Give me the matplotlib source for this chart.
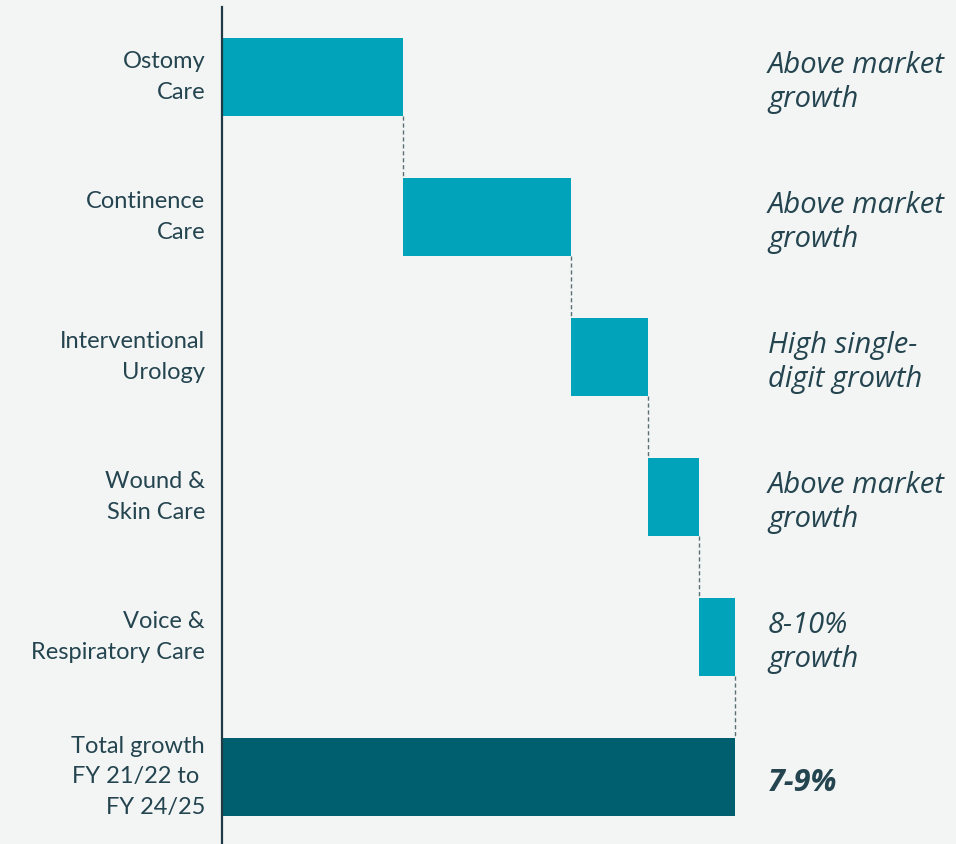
import matplotlib.pyplot as plt
import numpy as np

# Data (share of total growth)
categories = ['Ostomy\nCare', 'Continence\nCare', 'Interventional\nUrology',
              'Wound &\nSkin Care', 'Voice &\nRespiratory Care',
              'Total growth\nFY 21/22 to \nFY 24/25']
contributions = [35.3, 32.7, 15.0, 9.9, 7.0]
outlooks = ['Above market\ngrowth', 'Above market\ngrowth', 'High single-\ndigit growth',
            'Above market\ngrowth', '8-10%\ngrowth', '7-9%']

bg = '#f3f5f5'
teal = '#00a3b9'
dark = '#005f6e'
txt = '#24444f'

plt.rcParams['font.family'] = ['Lato', 'DejaVu Sans']

fig = plt.figure(figsize=(9.56, 8.44), dpi=100, facecolor=bg)
ax = fig.add_axes([222/956, 0, 734/956, 837/844], facecolor=bg)

total = sum(contributions)
starts = np.concatenate([[0], np.cumsum(contributions)[:-1]])
ends = np.cumsum(contributions)
ypos = np.arange(len(categories))
h = 0.557

ax.barh(ypos[:-1], contributions, left=starts, height=h, color=teal, edgecolor='none')
ax.barh(ypos[-1], total, left=0, height=h, color=dark, edgecolor='none')

# dashed connectors
for i, e in enumerate(ends):
    ax.plot([e, e], [ypos[i] + h/2, ypos[i] + 1 - h/2], color='#5a6e75',
            lw=1, ls=(0, (3, 2)), zorder=0)

ax.set_xlim(0, total * 734 / 513)
ax.set_ylim(5.479, -0.5)

for s in ['top', 'right', 'bottom']:
    ax.spines[s].set_visible(False)
ax.spines['left'].set_color('#1f3a44')
ax.spines['left'].set_linewidth(1.6)
ax.set_xticks([])
ax.set_yticks([])

for i, lab in enumerate(categories):
    ax.text(-17 / 513 * total, ypos[i], lab, ha='right', va='center',
            fontsize=17, color=txt, linespacing=1.55)

for i, t in enumerate(outlooks):
    bold = i == len(outlooks) - 1
    ax.text((768 - 222) / 513 * total, ypos[i] + 0.04, t, ha='left', va='center',
            fontsize=22 if bold else 21, color=txt, style='italic', linespacing=1.2,
            family=['Open Sans', 'DejaVu Sans'],
            fontweight='bold' if bold else 'normal')

fig.savefig('out.png', dpi=100, facecolor=bg)
